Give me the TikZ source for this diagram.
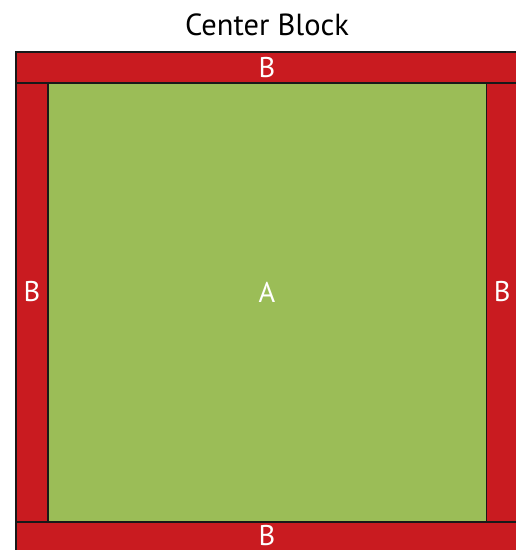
\documentclass[tikz,border=0pt]{standalone}
\usepackage{fontspec}
\setmainfont{PT Sans}
\usetikzlibrary{positioning}
\definecolor{cbRed}{HTML}{C91B20}
\definecolor{cbGreen}{HTML}{9BBD57}
\tikzset{
  cbpart/.style={draw=black!90, line width=1.6pt, inner sep=0pt, outer sep=0pt, anchor=north west},
  border/.style={cbpart, fill=cbRed},
  core/.style={cbpart, fill=cbGreen},
  lbl/.style={font=\fontsize{28.5}{30}\selectfont, text=white, inner sep=0pt},
  ttl/.style={font=\fontsize{30.5}{32}\selectfont, inner sep=0pt}
}
\begin{document}
\begin{tikzpicture}[x=1pt, y=-1pt]
  \useasboundingbox (0,0) rectangle (516,550);
  \clip (0,0) rectangle (516,550);
  \node[ttl] (title) at (267,24.5) {Center Block};
  % border pieces
  \node[border, minimum width=502pt, minimum height=31pt] (bTop) at (16,52) {};
  \node[border, minimum width=32pt, minimum height=439pt] (bLeft) at (16,83) {};
  \node[border, minimum width=31.5pt, minimum height=439pt] (bRight) at (486.5,83) {};
  \node[border, minimum width=502pt, minimum height=29pt] (bBottom) at (16,522) {};
  % centre
  \node[core, minimum width=438.5pt, minimum height=439pt] (ctr) at (48,83) {};
  % labels
  \node[lbl] (aLbl) at (267,292) {A};
  \node[lbl] (bTopLbl) at (bTop.center) {B};
  \node[lbl] (bBottomLbl) at (267,536) {B};
  \node[lbl] (bLeftLbl) at (bLeft |- aLbl) {B};
  \node[lbl] (bRightLbl) at (bRight |- aLbl) {B};
\end{tikzpicture}
\end{document}
